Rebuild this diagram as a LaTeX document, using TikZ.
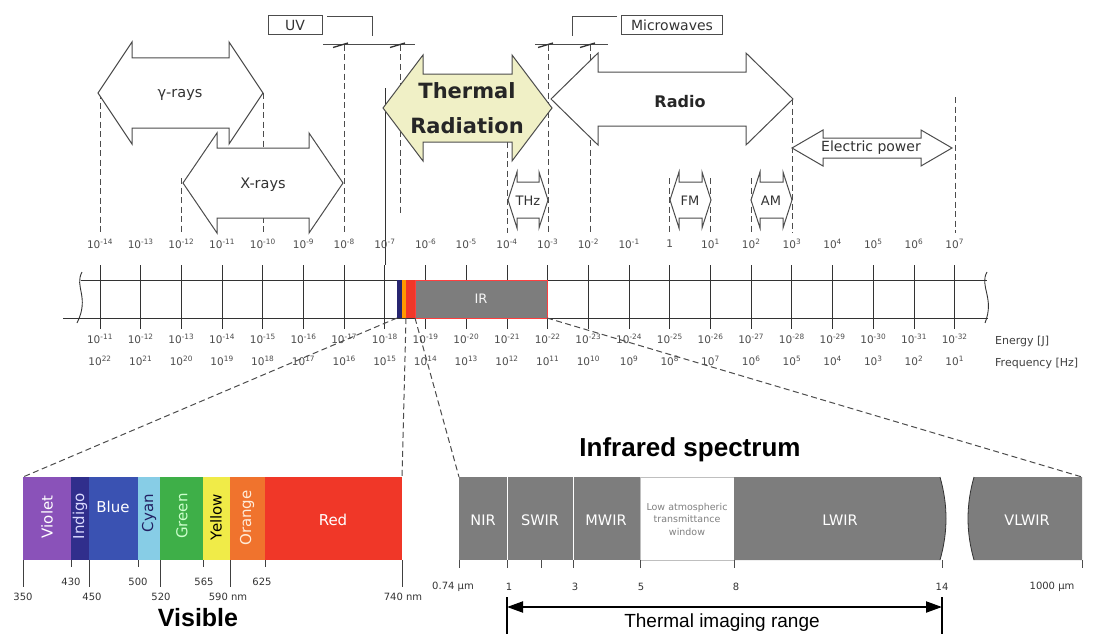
\documentclass[tikz,border=0pt]{standalone}
\usepackage{fontspec}
\setmainfont{DejaVu Sans}
\newfontfamily\headfont{Liberation Sans}
\usetikzlibrary{arrows.meta}
\definecolor{thermalfill}{RGB}{240,240,198}
\definecolor{irgray}{RGB}{125,125,125}
\definecolor{cviolet}{RGB}{138,82,185}
\definecolor{cindigo}{RGB}{48,46,140}
\definecolor{cblue}{RGB}{58,82,178}
\definecolor{ccyan}{RGB}{135,205,230}
\definecolor{cgreen}{RGB}{62,175,72}
\definecolor{cyellow}{RGB}{240,235,72}
\definecolor{corange}{RGB}{240,115,45}
\definecolor{cred}{RGB}{240,55,40}
\def\dblarrow[#1](#2:#3:#4)(#5:#6:#7){\draw[#1] (#2,#4) -- (#2+#5,#4-#6) -- (#2+#5,#4-#7) -- (#3-#5,#4-#7) -- (#3-#5,#4-#6) -- (#3,#4) -- (#3-#5,#4+#6) -- (#3-#5,#4+#7) -- (#2+#5,#4+#7) -- (#2+#5,#4+#6) -- cycle;}
\tikzset{
  band/.style={draw=black!70, line width=1pt},
  guide/.style={draw=black!70, line width=1pt, dash pattern=on 6pt off 3.5pt},
  tickline/.style={draw=black!80, line width=0.9pt},
  bandtext/.style={font=\fontsize{14.5}{16}\selectfont, text=black!80, inner sep=0pt},
  smalltext/.style={font=\fontsize{13}{15}\selectfont, text=black!80, inner sep=0pt},
  tagbox/.style={draw=black!70, line width=0.9pt, font=\fontsize{14}{16}\selectfont, text=black!80, minimum height=19pt, inner sep=0pt},
  scalelbl/.style={font=\fontsize{10.5}{12}\selectfont, text=black!70, inner sep=0pt},
  vislbl/.style={font=\fontsize{15}{17}\selectfont, inner sep=0pt},
  nmlbl/.style={font=\fontsize{10}{12}\selectfont, text=black!80, inner sep=0pt},
  irlbl/.style={font=\fontsize{14.5}{16}\selectfont, text=white, inner sep=0pt},
}

\begin{document}
\begin{tikzpicture}[x=1pt,y=-1pt]
		\useasboundingbox (0,0) rectangle (1105,634);
		%%%%% BANDS %%%%%
		
		\node[tagbox, minimum width=54pt] (uv) at (295,25) {UV};
		\draw[band] (327,17) -- (372,17) -- (372,36);
		\draw[band] (323,45) -- (415,45);
		\node[tagbox, minimum width=101pt] (mw) at (672,25) {Microwaves};
		\draw[band] (617,17) -- (572,17) -- (572,36);
		\draw[band] (535,45) -- (608,45);
		\foreach \t in {343,400,548,590} \draw[black!80, line width=1.3pt] (\t-10,47.5) -- (\t+5,43);
		
		\draw[guide] (100,93) -- (100,233);
		\draw[guide] (181,178) -- (181,233);
		\draw[guide] (263,93) -- (263,233);
		\draw[guide] (344,45) -- (344,233);
		\draw[guide] (400,45) -- (400,213);
		\draw[guide] (507,142) -- (507,233);
		\draw[guide] (548,45) -- (548,233);
		\draw[guide] (590,45) -- (590,233);
		\draw[guide] (669,178) -- (669,233);
		\draw[guide] (710,178) -- (710,233);
		\draw[guide] (751,178) -- (751,233);
		\draw[guide] (792,99) -- (792,233);
		\draw[guide] (955,97) -- (955,233);
		\draw[tickline] (385,88) -- (385,265);
		
		\dblarrow[band,fill=white](98:263:93)(34:51:35)
		\dblarrow[band,fill=white](183:343:183)(34:50:35)
		\dblarrow[band,fill=thermalfill](383:552:108)(40:53:34)
		\dblarrow[band,fill=white](551:793:99)(47:46:27)
		\dblarrow[band,fill=white](792:952:148)(31:18:10)
		\dblarrow[band,fill=white](508:548:200)(9:28:18)
		\dblarrow[band,fill=white](670:711:200)(9:28:18)
		\dblarrow[band,fill=white](751:792:200)(9:28:18)
		
		\node[bandtext] (gamma) at (180,95) {γ-rays};
		\node[bandtext] (xray) at (263,185) {X-rays};
		\node[font=\bfseries\fontsize{21}{24}\selectfont, text=black!85, inner sep=0pt] (therm) at (467,91) {Thermal};
		\node[font=\bfseries\fontsize{21}{24}\selectfont, text=black!85, inner sep=0pt] (rad) at (467,126) {Radiation};
		\node[font=\bfseries\fontsize{16}{18}\selectfont, text=black!85, inner sep=0pt] (radio) at (680,102) {Radio};
		\node[font=\fontsize{14}{16}\selectfont, text=black!80, inner sep=0pt] (epow) at (871,148) {Electric power};
		\node[smalltext] (thz) at (528,201) {THz};
		\node[smalltext] (fm) at (690,201) {FM};
		\node[smalltext] (am) at (771,201) {AM};
		
		%%%%% SCALE %%%%%
		
		\foreach \i in {0,...,21}{
			\pgfmathsetmacro{\xx}{100+40.7*\i}
			\pgfmathtruncatemacro{\ww}{\i-14}
			\pgfmathtruncatemacro{\ee}{-11-\i}
			\pgfmathtruncatemacro{\ff}{22-\i}
			\draw[tickline] (\xx,265) -- (\xx,329);
			\node[scalelbl] (wl\i) at (\xx,244) {\ifnum\i=14 1\else 10\textsuperscript{\ww}\fi};
			\node[scalelbl] (en\i) at (\xx,339) {10\textsuperscript{\ee}};
			\node[scalelbl] (fr\i) at (\xx,361) {10\textsuperscript{\ff}};
		}
		\draw[tickline] (81,280) -- (987,280);
		\draw[tickline] (63,318) -- (988,318);
		\draw[tickline] (82,272) .. controls (74,287) and (90,297) .. (77,323);
		\draw[tickline] (987,272) .. controls (979,286) and (995,298) .. (985,323);
		
		\fill[cindigo!80!black] (397,280) rectangle (402,318);
		\fill[orange!80!yellow] (402,280) rectangle (406,318);
		\fill[cred] (406,280) rectangle (415,318);
		\draw[fill=irgray, draw=red!75!white, line width=0.8pt] (415,280) rectangle (547,318);
		\node[font=\fontsize{13}{15}\selectfont, text=white!92!gray, inner sep=0pt] (irtag) at (481,299) {IR};
		
		\node[font=\fontsize{11}{13}\selectfont, text=black!75, anchor=west, inner sep=0pt] (energy) at (995,341) {Energy [J]};
		\node[font=\fontsize{11}{13}\selectfont, text=black!75, anchor=west, inner sep=0pt] (freq) at (995,363) {Frequency [Hz]};
		
		\coordinate (visA) at (397,318);
		\coordinate (visB) at (406,318);
		\coordinate (irA) at (415,318);
		\coordinate (irB) at (547,318);
		\coordinate (vbL) at (23,477);
		\coordinate (vbR) at (402,477);
		\coordinate (ibL) at (459,477);
		\coordinate (ibR) at (1082,477);
		\draw[guide] (visA) -- (vbL);
		\draw[guide] (visB) -- (vbR);
		\draw[guide] (irA) -- (ibL);
		\draw[guide] (irB) -- (ibR);
		
		%%%%% VISIBLE %%%%%
		
		\foreach \a/\b/\c in {23/71/cviolet, 71/89/cindigo, 89/138/cblue, 138/160/ccyan, 160/203/cgreen, 203/230/cyellow, 230/265/corange, 265/402/cred}
			\fill[\c] (\a,477) rectangle (\b,560);
		\node[vislbl, rotate=90, text=white] (violet) at (47,517) {Violet};
		\node[vislbl, rotate=90, text=white!85!blue] (indigo) at (80,516) {Indigo};
		\node[vislbl, text=white] (blue) at (113,507) {Blue};
		\node[vislbl, rotate=90, text=cindigo!70!black] (cyan) at (149,513) {Cyan};
		\node[vislbl, rotate=90, text=green!20!white] (green) at (182,516) {Green};
		\node[vislbl, rotate=90, text=black] (yellow) at (216,517) {Yellow};
		\node[vislbl, rotate=90, text=orange!15!white] (orng) at (247,518) {Orange};
		\node[vislbl, text=white] (red) at (333,520) {Red};
		
		\foreach \t in {23,89,160,230,402} \draw[black!75, line width=0.9pt] (\t,560) -- (\t,587);
		\foreach \t in {71,138,203,265} \draw[black!75, line width=0.9pt] (\t,560) -- (\t,567);
		\node[nmlbl] (n430) at (71,582) {430};
		\node[nmlbl] (n500) at (138,582) {500};
		\node[nmlbl] (n565) at (204,582) {565};
		\node[nmlbl] (n625) at (262,582) {625};
		\node[nmlbl] (n350) at (23,597) {350};
		\node[nmlbl] (n450) at (92,597) {450};
		\node[nmlbl] (n520) at (161,597) {520};
		\node[nmlbl] (n590) at (228,597) {590 nm};
		\node[nmlbl] (n740) at (403,597) {740 nm};
		\node[font=\headfont\bfseries\fontsize{25}{28}\selectfont, inner sep=0pt] (visible) at (198,618) {Visible};
		
		%%%%% INFRARED %%%%%
		
		\node[font=\headfont\bfseries\fontsize{26}{30}\selectfont, inner sep=0pt] (irspec) at (690,450) {Infrared spectrum};
		\fill[irgray] (459,477) rectangle (507,560);
		\fill[irgray] (507,477) rectangle (573,560);
		\fill[irgray] (573,477) rectangle (640,560);
		\draw[white, line width=1pt] (507,477) -- (507,560);
		\draw[white, line width=1pt] (573,477) -- (573,560);
		\draw[black!25, fill=white, line width=0.6pt] (640,477) rectangle (734,560);
		\fill[irgray] (734,477) -- (940,477) .. controls (948,505) and (948,532) .. (940,560) -- (734,560) -- cycle;
		\draw[black!80, line width=0.8pt] (940,477) .. controls (948,505) and (948,532) .. (940,560);
		\fill[irgray] (974,477) -- (1082,477) -- (1082,560) -- (974,560) .. controls (966,532) and (966,505) .. (974,477) -- cycle;
		\draw[black!80, line width=0.8pt] (974,477) .. controls (966,505) and (966,532) .. (974,560);
		\node[irlbl] (nir) at (483,520) {NIR};
		\node[irlbl] (swir) at (540,520) {SWIR};
		\node[irlbl] (mwir) at (606,520) {MWIR};
		\node[font=\fontsize{9.5}{12.5}\selectfont, text=black!50, align=center, inner sep=0pt] (lowatm) at (687,519) {Low atmospheric\\transmittance\\window};
		\node[irlbl] (lwir) at (840,520) {LWIR};
		\node[irlbl] (vlwir) at (1027,520) {VLWIR};
		
		\foreach \t in {459,507,541,573,640,734,942,1082} \draw[black!70, line width=0.8pt] (\t,560) -- (\t,568);
		\node[nmlbl] (u074) at (453,587) {0.74 µm};
		\node[nmlbl] (u1) at (509,587) {1};
		\node[nmlbl] (u3) at (575,587) {3};
		\node[nmlbl] (u5) at (641,587) {5};
		\node[nmlbl] (u8) at (736,587) {8};
		\node[nmlbl] (u14) at (942,587) {14};
		\node[nmlbl] (u1000) at (1052,587) {1000 µm};
		
		\coordinate (tL) at (507,607);
		\coordinate (tR) at (942,607);
		\draw[black, line width=1.3pt] (507,597) -- (507,634);
		\draw[black, line width=1.3pt] (942,597) -- (942,634);
		\draw[black, line width=2pt, {Triangle[length=16pt,width=11pt]}-{Triangle[length=16pt,width=11pt]}] (tL) -- (tR);
		\node[font=\headfont\fontsize{19}{22}\selectfont, inner sep=0pt] (thermrange) at (722,623) {Thermal imaging range};
		
	\end{tikzpicture}
\end{document}
